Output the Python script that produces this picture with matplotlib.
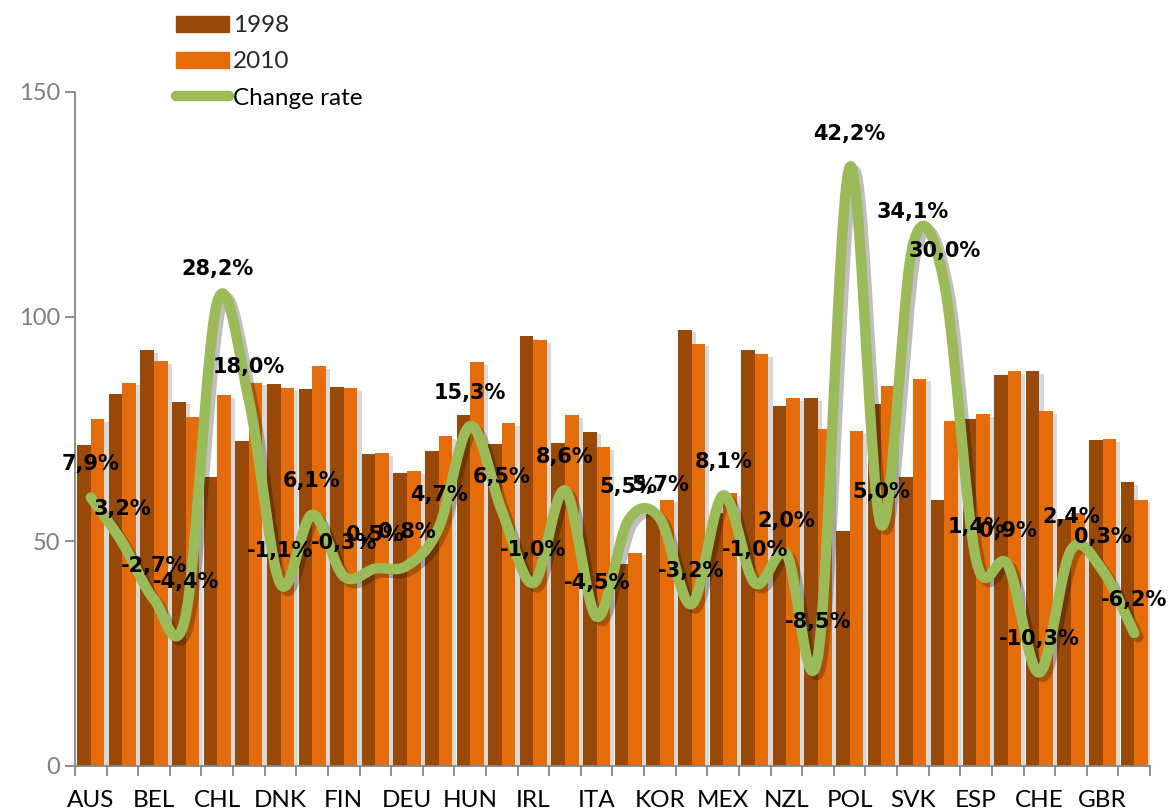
import matplotlib
matplotlib.use("Agg")
import matplotlib.pyplot as plt
import matplotlib.patheffects as pe
from matplotlib.patches import Patch
from matplotlib.lines import Line2D
import numpy as np

plt.rcParams['font.family'] = ['Lato', 'DejaVu Sans']

# Data
countries = ["AUS", "AUT", "BEL", "CAN", "CHL", "CZE", "DNK", "EST", "FIN", "FRA",
             "DEU", "GRC", "HUN", "ISL", "IRL", "ISR", "ITA", "JPN", "KOR", "LUX",
             "MEX", "NLD", "NZL", "NOR", "POL", "PRT", "SVK", "SVN", "ESP", "SWE",
             "CHE", "TUR", "GBR", "USA"]
values_1998 = [71.5, 82.7, 92.6, 81.1, 64.3, 72.3, 85.0, 83.9, 84.4, 69.4,
               65.3, 70.1, 78.0, 71.7, 95.7, 71.8, 74.4, 45.0, 56.1, 97.1,
               56.2, 92.5, 80.1, 81.9, 52.4, 80.6, 64.3, 59.1, 77.2, 87.0,
               87.9, 55.0, 72.6, 63.1]
values_2010 = [77.2, 85.3, 90.1, 77.7, 82.5, 85.3, 84.1, 89.0, 84.1, 69.7,
               65.7, 73.4, 89.9, 76.3, 94.8, 78.0, 71.0, 47.5, 59.3, 94.0,
               60.8, 91.6, 81.8, 74.9, 74.6, 84.6, 86.2, 76.7, 78.3, 87.8,
               78.9, 56.3, 72.7, 59.2]
change_rate = [7.9, 3.2, -2.7, -4.4, 28.2, 18.0, -1.1, 6.1, -0.3, 0.5,
               0.8, 4.7, 15.3, 6.5, -1.0, 8.6, -4.5, 5.5, 5.7, -3.2,
               8.1, -1.0, 2.0, -8.5, 42.2, 5.0, 34.1, 30.0, 1.4, 0.9,
               -10.3, 2.4, 0.3, -6.2]

dark = "#984807"
orange = "#E46C0A"
green = "#9BBB59"
grey = "#868686"

x = np.arange(len(countries))
rate = np.array(change_rate) / 100

fig = plt.figure(figsize=(11.68, 8.11), dpi=100)
ax = fig.add_axes([0.0642, 0.0555, 0.9204, 0.8311])

shadow = [pe.SimplePatchShadow(offset=(3, -2), alpha=0.15, shadow_rgbFace="black"), pe.Normal()]
w = 0.43
b1 = ax.bar(x - w / 2, values_1998, w, color=dark, zorder=2)
b2 = ax.bar(x + w / 2, values_2010, w, color=orange, zorder=2)
for r in list(b1) + list(b2):
    r.set_path_effects(shadow)

ax.set_xlim(-0.5, len(countries) - 0.5)
ax.set_ylim(0, 150)
ax.set_yticks([0, 50, 100, 150])
ax.tick_params(axis='y', colors=grey, labelcolor="#7F7F7F", labelsize=17, length=7, width=1.3)
ax.set_xticks(x[::2])
ax.set_xticklabels(countries[::2])
ax.set_xticks(np.arange(-0.5, len(countries)), minor=True)
ax.tick_params(axis='x', which='major', length=0, labelsize=17.5, labelcolor="black", pad=17)
ax.tick_params(axis='x', which='minor', length=7, width=1.3, colors=grey)
for s in ["top", "right"]:
    ax.spines[s].set_visible(False)
for s in ["left", "bottom"]:
    ax.spines[s].set_color(grey)
    ax.spines[s].set_linewidth(1.3)

# change rate on a hidden secondary axis, drawn as a smoothed line
ax2 = ax.twinx()
ax2.set_ylim(-0.2, 0.5)
ax2.axis("off")

pts_x = np.concatenate([[x[0]], x, [x[-1]]]).astype(float)
pts_y = np.concatenate([[rate[0]], rate, [rate[-1]]])
sx, sy = [], []
t = np.linspace(0, 1, 30)
for i in range(1, len(pts_x) - 2):
    p0x, p0y = pts_x[i], pts_y[i]
    p3x, p3y = pts_x[i + 1], pts_y[i + 1]
    c1x = p0x + (pts_x[i + 1] - pts_x[i - 1]) / 6
    c1y = p0y + (pts_y[i + 1] - pts_y[i - 1]) / 6
    c2x = p3x - (pts_x[i + 2] - pts_x[i]) / 6
    c2y = p3y - (pts_y[i + 2] - pts_y[i]) / 6
    bx = (1 - t) ** 3 * p0x + 3 * (1 - t) ** 2 * t * c1x + 3 * (1 - t) * t ** 2 * c2x + t ** 3 * p3x
    by = (1 - t) ** 3 * p0y + 3 * (1 - t) ** 2 * t * c1y + 3 * (1 - t) * t ** 2 * c2y + t ** 3 * p3y
    sx.extend(bx)
    sy.extend(by)

ax2.plot(sx, sy, color=green, lw=7.5, solid_capstyle="round", solid_joinstyle="round",
         path_effects=[pe.SimpleLineShadow(offset=(3, -3), alpha=0.25, shadow_color="black"),
                       pe.Normal()])

for xi, r in zip(x, change_rate):
    ax2.annotate(f"{r:.1f}%".replace(".", ","), (xi, r / 100), xytext=(0, 24),
                 textcoords="offset points", ha="center", va="center",
                 fontsize=15, fontweight="bold", color="black", family="DejaVu Sans")

handles = [Patch(color=dark), Patch(color=orange),
           Line2D([], [], color=green, lw=7.5, solid_capstyle="round")]
leg = fig.legend(handles=handles, labels=["1998", "2010", "Change rate"],
                 loc="upper left", bbox_to_anchor=(0.142, 0.993), frameon=False,
                 fontsize=17.5, handlelength=2.2, handleheight=0.6, handletextpad=0.15,
                 labelspacing=0.62, borderaxespad=0)
for txt in leg.get_texts()[:2]:
    txt.set_color("#262626")

fig.savefig("out.png", dpi=100)
